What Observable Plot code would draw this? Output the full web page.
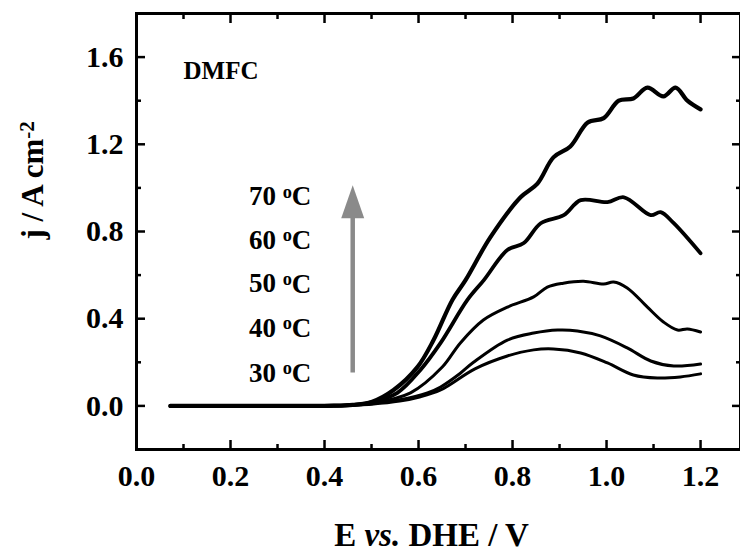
<!DOCTYPE html>
<html><head><meta charset="utf-8">
<script src="https://cdn.jsdelivr.net/npm/d3@7"></script>
<script src="https://cdn.jsdelivr.net/npm/@observablehq/plot@0.6"></script>
<style>body{margin:0;background:#fff;overflow:hidden} svg{display:block}</style>
</head><body><div id="chart"></div>
<script>
// ---- data ----
const E70 = [0.072,0.15,0.25,0.35,0.42,0.46,0.50,0.547,0.598,0.632,0.672,0.70,0.753,0.817,0.853,0.887,0.923,0.96,0.994,1.026,1.057,1.087,1.121,1.147,1.172,1.20];
const J70 = [0,0,0,0,0.001,0.005,0.018,0.073,0.179,0.302,0.486,0.577,0.774,0.957,1.02,1.14,1.19,1.30,1.32,1.40,1.41,1.46,1.42,1.46,1.40,1.36];
const E60 = [0.072,0.15,0.25,0.35,0.42,0.46,0.50,0.555,0.604,0.647,0.704,0.739,0.789,0.824,0.86,0.909,0.945,1.002,1.037,1.094,1.115,1.143,1.20];
const J60 = [0,0,0,0,0.001,0.005,0.016,0.06,0.165,0.289,0.486,0.577,0.715,0.747,0.838,0.875,0.944,0.935,0.957,0.875,0.889,0.838,0.70];
const E50 = [0.072,0.15,0.25,0.35,0.42,0.46,0.50,0.583,0.65,0.689,0.738,0.789,0.845,0.874,0.908,0.951,0.994,1.015,1.044,1.087,1.121,1.151,1.172,1.20];
const J50 = [0,0,0,0,0.001,0.004,0.012,0.06,0.177,0.289,0.394,0.453,0.50,0.545,0.563,0.572,0.559,0.568,0.541,0.453,0.385,0.348,0.353,0.339];
const E40 = [0.072,0.15,0.25,0.35,0.42,0.46,0.50,0.56,0.619,0.647,0.689,0.717,0.789,0.845,0.896,0.938,0.987,1.044,1.094,1.143,1.20];
const J40 = [0,0,0,0,0.001,0.004,0.01,0.028,0.06,0.087,0.15,0.2,0.302,0.334,0.348,0.344,0.321,0.266,0.206,0.183,0.192];
const E30 = [0.072,0.15,0.25,0.35,0.42,0.46,0.50,0.56,0.60,0.647,0.72,0.789,0.845,0.887,0.945,1.002,1.057,1.108,1.157,1.20];
const J30 = [0,0,0,0,0.001,0.004,0.008,0.022,0.04,0.073,0.17,0.229,0.257,0.261,0.243,0.197,0.142,0.128,0.133,0.147];

const seriesNames = ["70", "60", "50", "40", "30"];
const seriesE = [E70, E60, E50, E40, E30];
const seriesJ = [J70, J60, J50, J40, J30];

const tempLabels = ["70 oC", "60 oC", "50 oC", "40 oC", "30 oC"];
const xMajor = [0, 0.2, 0.4, 0.6, 0.8, 1.0, 1.2];
const xMinor = [0.1, 0.3, 0.5, 0.7, 0.9, 1.1];
const yMajor = [0, 0.4, 0.8, 1.2, 1.6];
const yMinor = [-0.2, 0.2, 0.6, 1.0, 1.4];
const xTitle = "E vs. DHE / V";
const yTitle = "j / A cm-2";
const panelLabel = "DMFC";

// ---- build table ----
const rows = [];
seriesNames.forEach((s, k) => seriesE[k].forEach((e, i) => rows.push({series: s, E: e, j: seriesJ[k][i]})));
const widths = {"70": 4.2, "60": 3.8, "50": 3, "40": 3, "30": 3};

const font = "'Liberation Serif', 'Times New Roman', serif";
const labelY = [0.96, 0.76, 0.56, 0.355, 0.15];

const arrowHead = {draw(ctx, size) {
  const s = Math.sqrt(size / Math.PI);
  ctx.moveTo(0, 0); ctx.lineTo(-11.5 * s, 33 * s); ctx.lineTo(11.5 * s, 33 * s); ctx.closePath();
}};

const axisCommon = {label: null, stroke: "black", strokeWidth: 2.5};

const plot = Plot.plot({
  width: 740, height: 552,
  marginLeft: 136, marginRight: 0, marginTop: 13, marginBottom: 103,
  style: {fontFamily: font, fontWeight: "bold", background: "white", color: "black"},
  x: {domain: [0, 1.285], label: null},
  y: {domain: [-0.2, 1.8], label: null},
  marks: [
    ...seriesNames.map(s => Plot.line(rows.filter(r => r.series === s), {
      x: "E", y: "j", stroke: "black", strokeWidth: widths[s], curve: "catmull-rom", strokeLinecap: "round", strokeLinejoin: "round"
    })),
    Plot.frame({stroke: "black", strokeWidth: 3}),
    Plot.axisX(xMajor, {...axisCommon, anchor: "bottom", tickSize: -9, tickPadding: 24, tickFormat: d3.format(".1f"), fontSize: 30, fontWeight: "bold"}),
    Plot.axisX(xMinor, {...axisCommon, anchor: "bottom", tickSize: -5, fill: "none"}),
    Plot.axisX(xMajor, {...axisCommon, anchor: "top", tickSize: -9, fill: "none"}),
    Plot.axisX(xMinor, {...axisCommon, anchor: "top", tickSize: -5, fill: "none"}),
    Plot.axisY(yMajor, {...axisCommon, anchor: "left", tickSize: -9, tickPadding: 22, tickFormat: d3.format(".1f"), fontSize: 30, fontWeight: "bold"}),
    Plot.axisY(yMinor, {...axisCommon, anchor: "left", tickSize: -5, fill: "none"}),
    Plot.axisY(yMajor, {...axisCommon, anchor: "right", tickSize: -9, fill: "none"}),
    Plot.axisY(yMinor, {...axisCommon, anchor: "right", tickSize: -5, fill: "none"}),
    Plot.ruleX([0.46], {y1: 0.151, y2: 0.87, stroke: "#8a8a8a", strokeWidth: 4.5}),
    Plot.dot([0.46], {x: d => d, y: 1.012, r: 1, symbol: arrowHead, fill: "#8a8a8a", stroke: "none"}),
    Plot.text(tempLabels, {x: 0.372, y: (d, i) => labelY[i], text: d => d, textAnchor: "end", fontSize: 27, fontWeight: "bold", fill: "black"}),
    Plot.text([panelLabel], {frameAnchor: "top-left", dx: 47, dy: 48, text: d => d, textAnchor: "start", lineAnchor: "top", fontSize: 25, fontWeight: "bold", fill: "black"}),
    Plot.text([xTitle], {frameAnchor: "bottom", dx: -7, dy: 96, text: d => d, lineAnchor: "bottom", fontSize: 33, fontWeight: "bold", fill: "black"}),
    Plot.text([yTitle], {frameAnchor: "left", rotate: -90, dx: -103, dy: 8, text: d => d, fontSize: 31, fontWeight: "bold", fill: "black"})
  ]
});
document.getElementById("chart").appendChild(plot);

// rich text: superscripts and italics
d3.select(plot).selectAll("text").each(function() {
  const s = this.textContent;
  const t = d3.select(this);
  if (tempLabels.includes(s)) {
    const num = s.split(" ")[0];
    t.text("");
    t.append("tspan").text(num + " ");
    t.append("tspan").attr("dy", "-0.42em").attr("font-size", "0.68em").text("o");
    t.append("tspan").attr("dy", "0.29em").text("C");
  } else if (s === xTitle) {
    t.text("");
    t.append("tspan").text("E ");
    t.append("tspan").attr("font-style", "italic").text("vs.");
    t.append("tspan").text(" DHE / V");
  } else if (s === yTitle) {
    t.text("");
    t.append("tspan").text("j / A cm");
    t.append("tspan").attr("dy", "-0.45em").attr("font-size", "0.68em").text("-2");
  }
});
</script></body></html>
